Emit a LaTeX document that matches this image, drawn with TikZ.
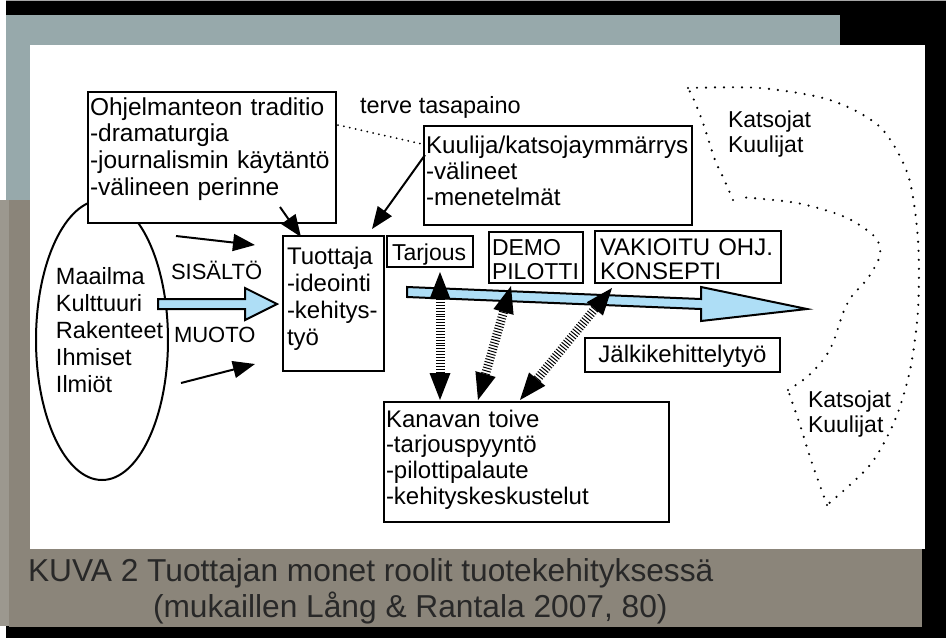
\documentclass[tikz,border=0pt]{standalone}
\usepackage{fontspec}
\setmainfont{Liberation Sans}
\usepackage{xcolor}
\usepackage{tikz}
\usetikzlibrary{shapes,arrows,positioning,calc,arrows.meta}

\definecolor{frameblue}{RGB}{151,169,171}
\definecolor{framebrown}{RGB}{139,133,122}
\definecolor{stripbrown}{RGB}{156,152,143}
\definecolor{flowblue}{RGB}{174,222,246}
\definecolor{captiongray}{RGB}{40,40,40}

\tikzset{
  box/.style={draw, line width=2.2pt, fill=white, anchor=north west, align=left, inner ysep=0pt, outer sep=0pt},
  plaintext/.style={anchor=base west, inner sep=0pt, outer sep=0pt, align=left},
  conn/.style={line width=2pt, -{Triangle[length=22pt,width=17pt]}},
  twoway/.style={line width=9pt, dash pattern=on 1pt off 1.9pt,
    {Triangle[length=27pt,width=21pt,line width=0pt]}-{Triangle[length=27pt,width=21pt,line width=0pt]}},
  flow/.style={draw, line width=2pt, fill=flowblue, line join=miter},
  audience/.style={line width=2.4pt, dash pattern=on 0pt off 9pt, line cap=round},
  balance/.style={line width=2pt, dash pattern=on 0pt off 6pt, line cap=round}
}

\begin{document}
\begin{tikzpicture}[x=1pt, y=-1pt, font=\fontsize{24}{26}\selectfont]
    \useasboundingbox (0,0) rectangle (946,638);
    % Frame
    \fill[black] (6,1.3) rectangle (946,638);
    \fill[gray!70] (6,0) rectangle (946,1.3);
    \fill[frameblue] (6,15) rectangle (840,200);
    \fill[stripbrown] (0,200) rectangle (9,626);
    \fill[framebrown] (9,200) rectangle (922,627);
    \fill[white] (30,45) rectangle (925,549);
    % World
    \node[draw, ellipse, line width=2pt, minimum width=132pt, minimum height=280pt, inner sep=0pt] (world) at (102,340) {};
    \node[plaintext, text width=110pt, font=\fontsize{23.5}{27}\selectfont] (worldtext) at (56,284) {Maailma\\Kulttuuri\\Rakenteet\\Ihmiset\\Ilmiöt};
    \node[plaintext, font=\fontsize{22}{22}\selectfont] (sisalto) at (171,279) {SISÄLTÖ};
    \node[plaintext, font=\fontsize{22}{22}\selectfont] (muoto) at (174,342) {MUOTO};
    % Boxes
    \node[box, text width=244pt, inner xsep=2pt, text height=23pt, text depth=108pt, font=\fontsize{24.5}{26.7}\selectfont] (ohjelma) at (88,92) {Ohjelmanteon traditio\\-dramaturgia\\-journalismin käytäntö\\-välineen perinne};
    \node[plaintext, font=\fontsize{23.5}{24}\selectfont] (tasapaino) at (360,113) {terve tasapaino};
    \node[box, text width=264pt, inner xsep=2pt, text height=27pt, text depth=72pt, font=\fontsize{24.2}{26}\selectfont] (kuulija) at (424,126) {Kuulija/katsojaymmärrys\\-välineet\\-menetelmät};
    \node[box, text width=93pt, inner xsep=4pt, text height=28pt, text depth=107pt, font=\fontsize{24}{27}\selectfont] (tuottaja) at (283,236) {Tuottaja\\-ideointi\\-kehitys-\\työ};
    \node[box, text width=76pt, inner xsep=5pt, text height=24pt, text depth=7pt, font=\fontsize{23}{24}\selectfont] (tarjous) at (387,236) {Tarjous};
    \node[box, text width=88pt, inner xsep=3pt, text height=23pt, text depth=28pt, font=\fontsize{23}{24}\selectfont] (demo) at (489,232) {DEMO\\PILOTTI};
    \node[box, text width=176pt, inner xsep=5pt, text height=24pt, text depth=28pt, font=\fontsize{24}{24}\selectfont] (vakioitu) at (595,231) {VAKIOITU OHJ.\\KONSEPTI};
    \node[box, text width=191pt, inner xsep=2pt, text height=24pt, text depth=10pt, align=center] (jalki) at (585,338) {Jälkikehittelytyö};
    \node[box, text width=281pt, inner xsep=2pt, text height=25pt, text depth=95pt, font=\fontsize{24}{25.7}\selectfont] (kanava) at (384,402) {Kanavan toive\\-tarjouspyyntö\\-pilottipalaute\\-kehityskeskustelut};
    % Flow arrows
    \draw[flow] (158,299) -- (245,299) -- (245,288) -- (277,304) -- (245,320) -- (245,309) -- (158,309) -- cycle;
    \draw[flow] (407,287) -- (701,299) -- (701,287) -- (807,309) -- (701,321) -- (701,309) -- (407,297) -- cycle;
    % Connectors
    \draw[conn] ($(world.east)+(7,-104)$) -- ($(tuottaja.north west)+(-28,9)$);
    \draw[conn] ($(world.east)+(12,43)$) -- ($(tuottaja.north west)+(-28,128)$);
    \draw[conn] ($(ohjelma.south east)+(-56,-16)$) -- ($(tuottaja.north west)+(18,1)$);
    \draw[conn] ($(kuulija.north west)+(1,29)$) -- ($(tuottaja.north east)+(-12,-7)$);
    \draw[balance] ($(ohjelma.north east)+(2,33)$) -- ($(kuulija.north west)+(-2,18)$);
    % Feedback
    \draw[twoway] ($(tarjous.south west)+(53,5)$) -- ($(kanava.north west)+(56,-2)$);
    \draw[twoway] ($(demo.south west)+(22,3)$) -- ($(kanava.north west)+(94,-2)$);
    \draw[twoway] ($(vakioitu.south west)+(17,5)$) -- ($(kanava.north west)+(136,-2)$);
    % Audience
    \draw[audience] plot[smooth] coordinates {(688,88) (760,88) (830,100) (880,127) (908,175) (918,240) (918,310) (910,370) (895,420) (870,465) (827,505)};
    \draw[audience] plot[smooth] coordinates {(827,505) (812,463) (800,425) (788,390)};
    \draw[audience] plot[smooth] coordinates {(788,390) (807,377) (823,360) (833,343) (843,313) (852,296) (868,278) (880,255) (875,237) (845,217) (797,203) (739,197)};
    \draw[audience] plot[smooth] coordinates {(733,200) (723,177) (715,160) (703,123) (694,100) (688,88)};
    \node[plaintext, text width=90pt, font=\fontsize{23}{25}\selectfont] (yleiso) at (728,127) {Katsojat\\Kuulijat};
    \node[plaintext, text width=90pt, font=\fontsize{23}{25}\selectfont] (kuulijat) at (808,407) {Katsojat\\Kuulijat};
    % Caption
    \node[plaintext, font=\fontsize{31.7}{36}\selectfont, text=captiongray] (kuva) at (28,581) {KUVA 2 Tuottajan monet roolit tuotekehityksessä};
    \node[plaintext, font=\fontsize{31.7}{36}\selectfont, text=captiongray] (lahde) at (153,617) {(mukaillen Lång \& Rantala 2007, 80)};
\end{tikzpicture}
\end{document}
